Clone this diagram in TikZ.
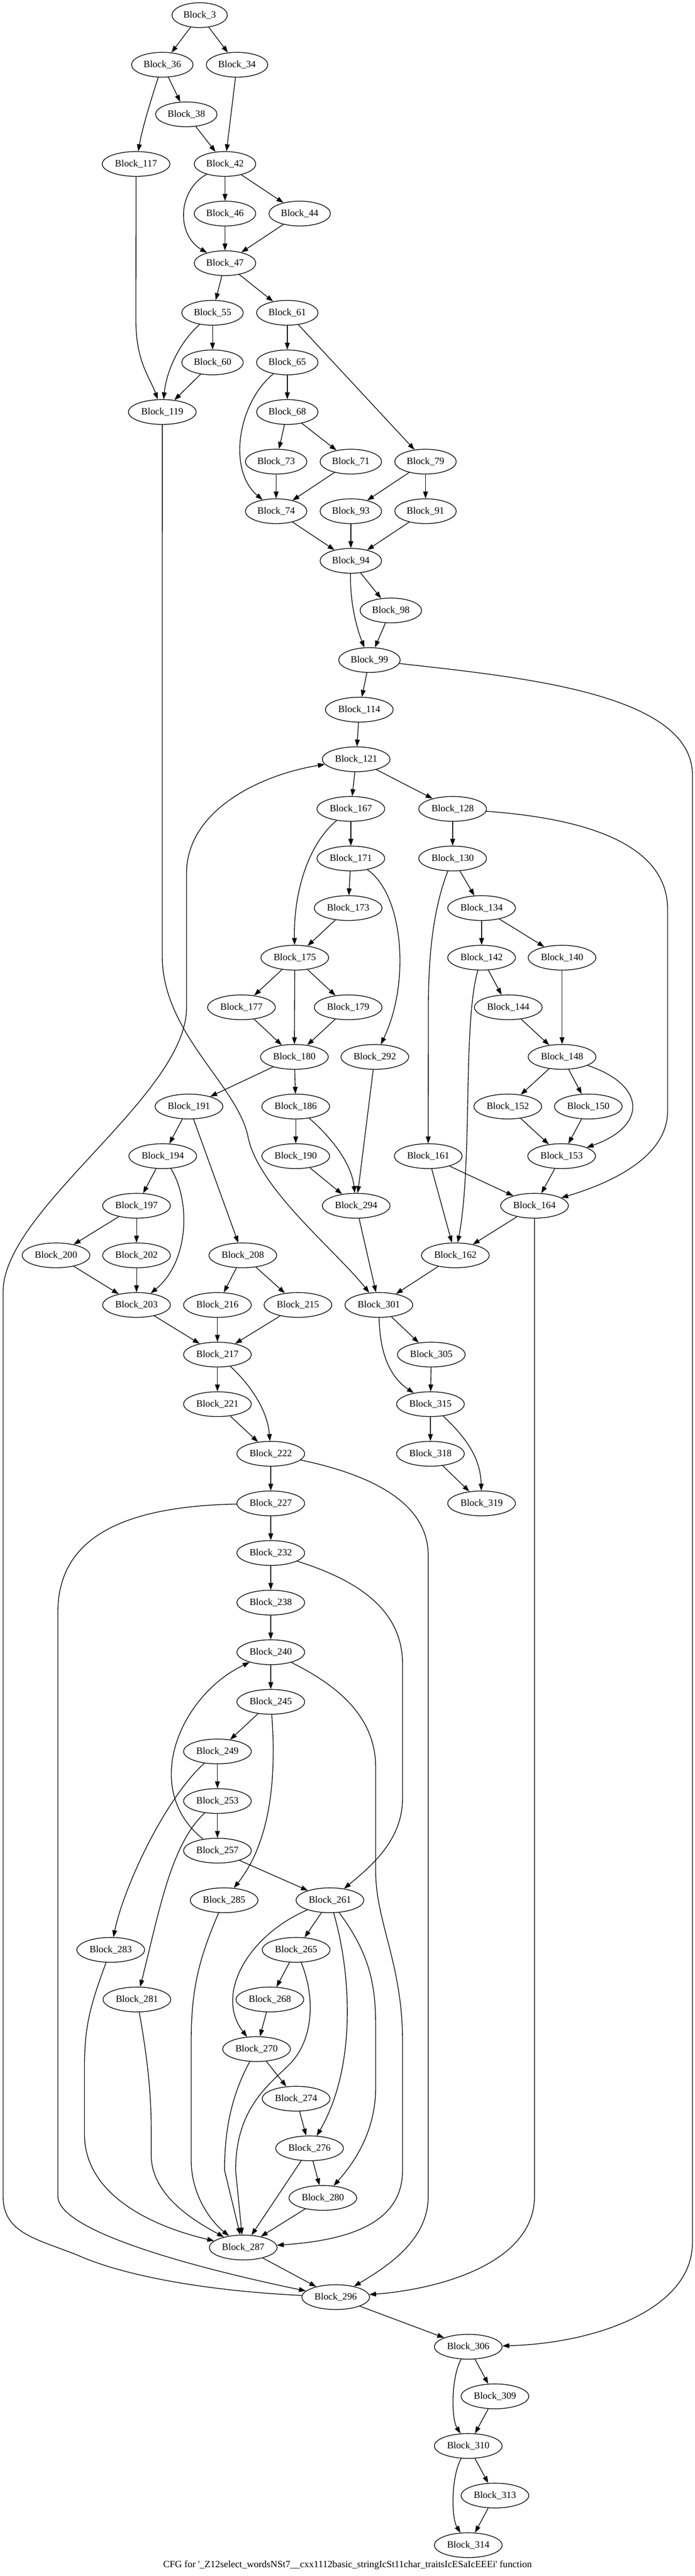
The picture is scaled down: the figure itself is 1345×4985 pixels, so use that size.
\documentclass[tikz,border=0pt]{standalone}
\usepackage{fontspec}
\setmainfont{Liberation Serif}[Ligatures=TeXOff]
\usetikzlibrary{arrows.meta,shapes.geometric}
\tikzset{
  blk/.style={draw, ellipse, inner sep=0pt, minimum height=36pt, line width=1pt, font=\fontsize{14}{16}\selectfont},
  bone/.style={blk, minimum width=80.25pt},
  btwo/.style={blk, minimum width=89.25pt},
  bthree/.style={blk, minimum width=98.25pt},
  e/.style={-{Triangle[length=10pt,width=7pt]}, line width=1pt},
}
\begin{document}
\begin{tikzpicture}[x=0.75pt,y=-0.75pt]
\useasboundingbox (0,0) rectangle (1345,4985);
\node[bone] (n3) at (386.4,29.3) {Block\_3};
\node[btwo] (n36) at (314.1,125.3) {Block\_36};
\node[btwo] (n34) at (458.7,125.3) {Block\_34};
\node[btwo] (n38) at (360.6,221.3) {Block\_38};
\node[bthree] (n117) at (263.3,317.3) {Block\_117};
\node[btwo] (n42) at (435.4,317.3) {Block\_42};
\node[btwo] (n46) at (435.4,413.3) {Block\_46};
\node[btwo] (n44) at (580,413.3) {Block\_44};
\node[btwo] (n47) at (435.4,509.3) {Block\_47};
\node[btwo] (n55) at (411.3,605.3) {Block\_55};
\node[btwo] (n61) at (556,605.3) {Block\_61};
\node[btwo] (n60) at (411.3,701.3) {Block\_60};
\node[btwo] (n65) at (556,701.3) {Block\_65};
\node[bthree] (n119) at (314.1,797.3) {Block\_119};
\node[btwo] (n68) at (556,797.3) {Block\_68};
\node[btwo] (n73) at (534.4,893.3) {Block\_73};
\node[btwo] (n71) at (679,893.3) {Block\_71};
\node[btwo] (n79) at (823.5,893.3) {Block\_79};
\node[btwo] (n74) at (534.4,989.3) {Block\_74};
\node[btwo] (n93) at (679,989.3) {Block\_93};
\node[btwo] (n91) at (823.5,989.3) {Block\_91};
\node[btwo] (n94) at (679,1085.3) {Block\_94};
\node[btwo] (n98) at (756.4,1181.3) {Block\_98};
\node[btwo] (n99) at (715,1277.3) {Block\_99};
\node[bthree] (n114) at (695.3,1373.3) {Block\_114};
\node[bthree] (n121) at (689.3,1469.3) {Block\_121};
\node[bthree] (n167) at (679,1565.3) {Block\_167};
\node[bthree] (n128) at (876,1565.3) {Block\_128};
\node[bthree] (n171) at (679,1661.3) {Block\_171};
\node[bthree] (n130) at (876,1661.3) {Block\_130};
\node[bthree] (n173) at (673.8,1757.3) {Block\_173};
\node[bthree] (n134) at (932,1757.3) {Block\_134};
\node[bthree] (n175) at (570.5,1853.3) {Block\_175};
\node[bthree] (n142) at (932,1853.3) {Block\_142};
\node[bthree] (n140) at (1087.7,1853.3) {Block\_140};
\node[bthree] (n177) at (467.3,1949.3) {Block\_177};
\node[bthree] (n179) at (673.8,1949.3) {Block\_179};
\node[bthree] (n144) at (983.6,1949.3) {Block\_144};
\node[bthree] (n180) at (569.7,2045.3) {Block\_180};
\node[bthree] (n292) at (725.4,2045.3) {Block\_292};
\node[bthree] (n148) at (1087.7,2045.3) {Block\_148};
\node[bthree] (n191) at (365.7,2141.3) {Block\_191};
\node[bthree] (n186) at (572.3,2141.3) {Block\_186};
\node[bthree] (n152) at (982.7,2141.3) {Block\_152};
\node[bthree] (n150) at (1138.5,2141.3) {Block\_150};
\node[bthree] (n194) at (315,2237.3) {Block\_194};
\node[bthree] (n190) at (572.3,2237.3) {Block\_190};
\node[bthree] (n161) at (828.7,2237.3) {Block\_161};
\node[bthree] (n153) at (1086.9,2237.3) {Block\_153};
\node[bthree] (n197) at (264.2,2333.3) {Block\_197};
\node[bthree] (n294) at (689.3,2333.3) {Block\_294};
\node[bthree] (n164) at (1034.4,2333.3) {Block\_164};
\node[bthree] (n200) at (108.4,2429.3) {Block\_200};
\node[bthree] (n202) at (264.2,2429.3) {Block\_202};
\node[bthree] (n208) at (469.9,2429.3) {Block\_208};
\node[bthree] (n162) at (881.2,2429.3) {Block\_162};
\node[bthree] (n203) at (264.2,2525.3) {Block\_203};
\node[bthree] (n216) at (420.8,2525.3) {Block\_216};
\node[bthree] (n215) at (576.6,2525.3) {Block\_215};
\node[bthree] (n301) at (733.2,2525.3) {Block\_301};
\node[bthree] (n217) at (420.8,2621.3) {Block\_217};
\node[bthree] (n305) at (834.7,2621.3) {Block\_305};
\node[bthree] (n221) at (420.8,2717.3) {Block\_221};
\node[bthree] (n315) at (833,2717.3) {Block\_315};
\node[bthree] (n222) at (524,2813.3) {Block\_222};
\node[bthree] (n318) at (833,2813.3) {Block\_318};
\node[bthree] (n227) at (524,2909.3) {Block\_227};
\node[bthree] (n319) at (932,2909.3) {Block\_319};
\node[bthree] (n232) at (524,3005.3) {Block\_232};
\node[bthree] (n238) at (524,3101.3) {Block\_238};
\node[bthree] (n240) at (524,3197.3) {Block\_240};
\node[bthree] (n245) at (524,3293.3) {Block\_245};
\node[bthree] (n249) at (420.8,3389.3) {Block\_249};
\node[bthree] (n253) at (420.8,3485.3) {Block\_253};
\node[bthree] (n257) at (420.8,3581.3) {Block\_257};
\node[bthree] (n285) at (433.7,3677.3) {Block\_285};
\node[bthree] (n261) at (638.5,3677.3) {Block\_261};
\node[bthree] (n283) at (214.3,3773.3) {Block\_283};
\node[bthree] (n265) at (573.1,3773.3) {Block\_265};
\node[bthree] (n281) at (265,3869.3) {Block\_281};
\node[bthree] (n268) at (522.3,3869.3) {Block\_268};
\node[bthree] (n270) at (496.5,3965.3) {Block\_270};
\node[bthree] (n274) at (573.1,4061.3) {Block\_274};
\node[bthree] (n276) at (599,4157.3) {Block\_276};
\node[bthree] (n280) at (624.8,4253.3) {Block\_280};
\node[bthree] (n287) at (470.7,4349.3) {Block\_287};
\node[bthree] (n296) at (649.7,4445.3) {Block\_296};
\node[bthree] (n306) at (906.2,4541.3) {Block\_306};
\node[bthree] (n309) at (957.8,4637.3) {Block\_309};
\node[bthree] (n310) at (906.2,4733.3) {Block\_310};
\node[bthree] (n313) at (957.8,4829.3) {Block\_313};
\node[bthree] (n314) at (906.2,4925.3) {Block\_314};
\node[font=\fontsize{14}{16}\selectfont] (title) at (672.5,4963.6) {CFG for '\_Z12select\_wordsNSt7\_\_cxx1112basic\_stringIcSt11char\_traitsIcESaIcEEEi' function};
% straight edges
\foreach \a/\b in {3/36,3/34,36/38,34/42,38/42,42/46,42/44,46/47,44/47,47/55,47/61,55/60,60/119,61/65,61/79,65/68,68/73,68/71,73/74,71/74,79/93,79/91,74/94,93/94,91/94,94/98,98/99,99/114,114/121,121/167,121/128,128/130,167/171,171/173,173/175,130/134,134/142,134/140,175/177,175/180,175/179,177/180,179/180,142/144,140/148,144/148,180/191,180/186,292/294,148/152,148/150,191/194,191/208,186/190,152/153,150/153,194/197,190/294,161/164,161/162,153/164,197/200,197/202,164/162,200/203,202/203,208/216,208/215,294/301,162/301,203/217,216/217,215/217,301/305,217/221,305/315,221/222,315/318,318/319,222/227,227/232,232/238,238/240,240/245,245/249,249/253,253/257,257/261,261/265,265/268,268/270,270/274,274/276,276/280,276/287,280/287,287/296,296/306,306/309,309/310,310/313,313/314}
  \draw[e] (n\a) -- (n\b);
% curved edges
\draw[e] (n36) .. controls (290,200) and (275,250) .. (n117);
\draw[e] (n117) -- (263,620) .. controls (263,700) and (290,730) .. (n119);
\draw[e] (n42) .. controls (342,370) and (342,455) .. (n47);
\draw[e] (n55) .. controls (345,665) and (322,720) .. (n119);
\draw[e] (n65) .. controls (460,780) and (440,910) .. (n74);
\draw[e] (n94) .. controls (677,1165) and (690,1215) .. (n99);
\draw[e] (n99) .. controls (1000,1310) and (1340,1340) .. (1340,1500) -- (1340,4340) .. controls (1340,4470) and (1150,4535) .. (n306);
\draw[e] (n128) .. controls (1150,1585) and (1292,1640) .. (1292,1760) -- (1292,2150) .. controls (1292,2240) and (1180,2290) .. (n164);
\draw[e] (n167) .. controls (600,1630) and (568,1720) .. (n175);
\draw[e] (n171) .. controls (780,1730) and (795,1900) .. (n292);
\draw[e] (n186) .. controls (640,2200) and (680,2250) .. (n294);
\draw[e] (n194) .. controls (368,2320) and (368,2440) .. (n203);
\draw[e] (n130) .. controls (838,1760) and (829,1850) .. (829,1950) -- (n161);
\draw[e] (n142) .. controls (895,1980) and (915,2250) .. (n162);
\draw[e] (n148) .. controls (1252,2100) and (1252,2180) .. (n153);
\draw[e] (n164) -- (1034.4,4250) .. controls (1034.4,4380) and (850,4430) .. (n296);
\draw[e] (n119) -- (314,1850) .. controls (314,2000) and (460,2100) .. (480,2200) .. controls (500,2300) and (650,2420) .. (n301);
\draw[e] (n301) .. controls (735,2620) and (755,2665) .. (n315);
\draw[e] (n315) .. controls (900,2780) and (930,2820) .. (n319);
\draw[e] (n217) .. controls (485,2680) and (518,2730) .. (n222);
\draw[e] (n222) .. controls (700,2850) and (828.7,2900) .. (828.7,3010) -- (828.7,4250) .. controls (828.7,4330) and (760,4380) .. (n296);
\draw[e] (n227) .. controls (230,2915) and (112,2980) .. (112,3120) -- (112,4250) .. controls (112,4330) and (480,4410) .. (n296);
\draw[e] (n296) .. controls (380,4432) and (230,4400) .. (150,4364) .. controls (70,4332) and (6,4322) .. (6,4250) -- (6,2500) .. controls (6,2340) and (361,2120) .. (361,1950) -- (361,1690) .. controls (361,1570) and (500,1500) .. (n121);
\draw[e] (n232) .. controls (700,3060) and (779,3120) .. (779,3220) -- (779,3480) .. controls (779,3560) and (720,3610) .. (n261);
\draw[e] (n240) .. controls (650,3260) and (727,3320) .. (727,3420) -- (727,3620) .. controls (727,3720) and (779,3800) .. (779,3950) -- (779,4200) .. controls (779,4300) and (680,4335) .. (n287);
\draw[e] (n257) .. controls (270,3460) and (350,3280) .. (n240);
\draw[e] (n245) .. controls (532,3400) and (535,3550) .. (n285);
\draw[e] (n249) .. controls (320,3480) and (240,3650) .. (n283);
\draw[e] (n253) .. controls (330,3570) and (308,3700) .. (n281);
\draw[e] (n285) .. controls (385,3790) and (370,3850) .. (370,3950) -- (370,4180) .. controls (370,4250) and (410,4300) .. (n287);
\draw[e] (n283) .. controls (175,3880) and (163.5,3920) .. (163.5,4000) -- (163.5,4130) .. controls (163.5,4250) and (300,4310) .. (n287);
\draw[e] (n281) .. controls (285,3980) and (292.6,4050) .. (292.6,4120) -- (292.6,4170) .. controls (292.6,4250) and (380,4300) .. (n287);
\draw[e] (n261) .. controls (480,3745) and (415,3860) .. (n270);
\draw[e] (n261) .. controls (680,3820) and (690,4000) .. (n276);
\draw[e] (n261) .. controls (715,3780) and (727,3840) .. (727,3920) -- (727,4040) .. controls (727,4120) and (690,4180) .. (n280);
\draw[e] (n265) .. controls (612,3870) and (605,3950) .. (560,3995) .. controls (520,4035) and (456,4080) .. (456,4200) -- (n287);
\draw[e] (n270) .. controls (445,4060) and (434.6,4130) .. (434.6,4200) -- (n287);
\draw[e] (n306) .. controls (873,4600) and (873,4680) .. (n310);
\draw[e] (n310) .. controls (873,4792) and (873,4872) .. (n314);
\end{tikzpicture}
\end{document}
